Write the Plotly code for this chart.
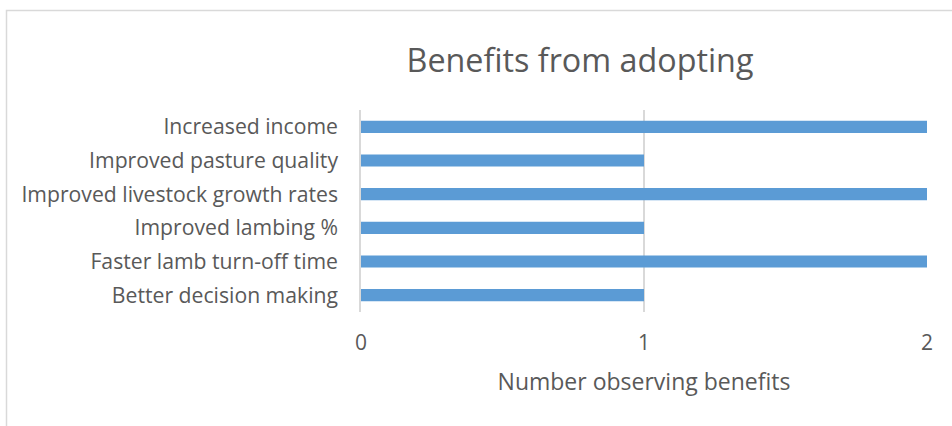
import plotly.graph_objects as go

categories = ["Increased income", "Improved pasture quality", "Improved livestock growth rates",
              "Improved lambing %", "Faster lamb turn-off time", "Better decision making"]
values = [2, 1, 2, 1, 2, 1]
x_ticks = [0, 1, 2]

W, H = 952, 426
L, R, T, B = 361, 25, 110, 114
pw, ph = W - L - R, H - T - B

FONT = "Open Sans"
GREY = "#595959"

fig = go.Figure(go.Bar(
    y=categories, x=values, orientation="h",
    marker=dict(color="#5B9BD5", line=dict(width=0)),
))

fig.update_layout(
    width=W, height=H,
    margin=dict(l=L, r=R, t=T, b=B),
    paper_bgcolor="white", plot_bgcolor="white",
    bargap=0.64,
    showlegend=False,
    font=dict(family=FONT, color=GREY, size=21),
    title=dict(text="Benefits from adopting", x=580 / W, xanchor="center",
               y=1 - 61 / H, yanchor="middle", xref="container", yref="container",
               font=dict(family=FONT, size=32.3, color=GREY)),
    xaxis=dict(range=[0, 2], tickvals=x_ticks, showgrid=True, gridcolor="#d9d9d9",
               gridwidth=1.5, zeroline=False, showline=False, ticks="",
               tickfont=dict(size=21, color=GREY), ticklabelstandoff=16,
               title=dict(text="Number observing benefits", font=dict(size=23, color=GREY), standoff=18)),
    yaxis=dict(autorange="reversed", showgrid=False, zeroline=False,
               showline=True, linecolor="#d9d9d9", linewidth=1.5, ticks="",
               tickfont=dict(size=21.2, color=GREY), ticklabelstandoff=17),
)

# outer chart border (extends past the right and bottom edges of the picture)
fig.add_shape(type="rect", xref="paper", yref="paper",
              x0=(6.5 - L) / pw, x1=(W + 20 - L) / pw,
              y0=(H - B - (H + 20)) / ph, y1=(H - B - 10.5) / ph,
              line=dict(color="#d9d9d9", width=1.5), fillcolor="rgba(0,0,0,0)", layer="below")

fig.write_html("out.html")
